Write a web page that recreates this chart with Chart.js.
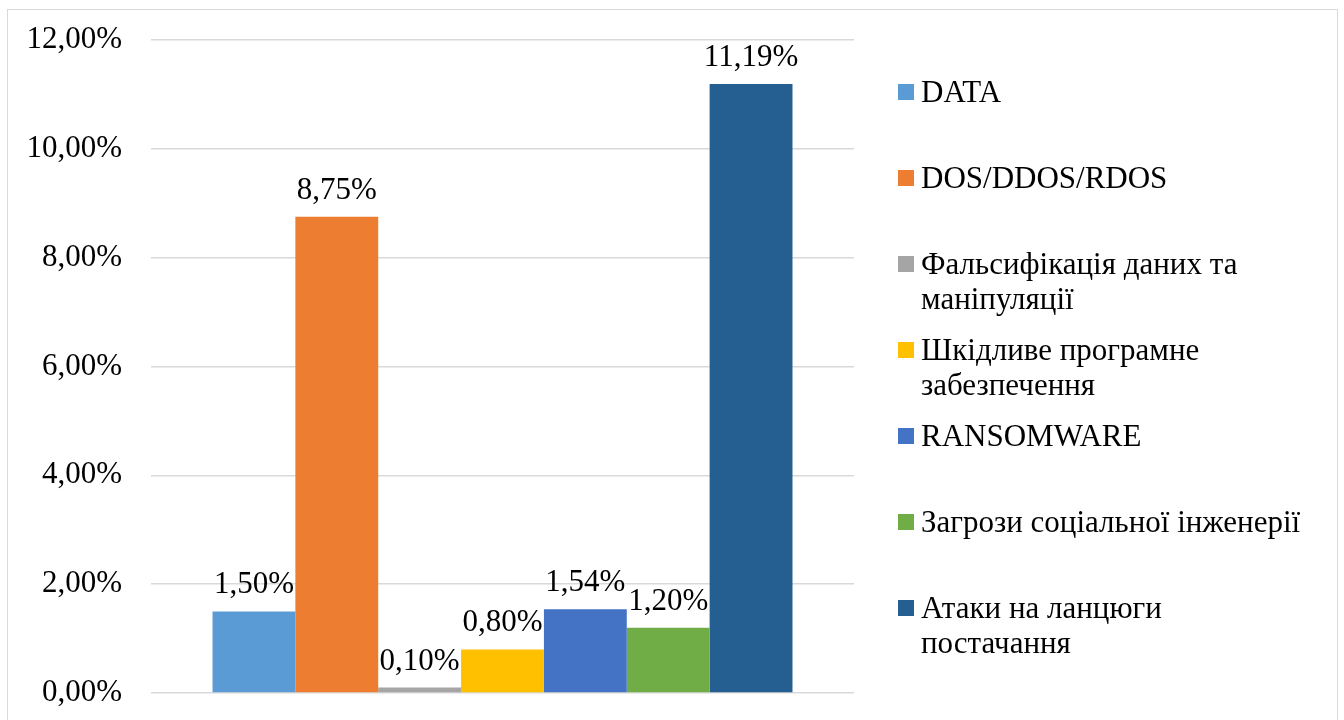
<!DOCTYPE html>
<html>
<head>
<meta charset="utf-8">
<script src="https://cdn.jsdelivr.net/npm/chart.js@4"></script>
<style>
  html, body { margin: 0; padding: 0; background: #fff; overflow: hidden; }
  #wrap { position: absolute; left: 0; top: 0; width: 1344px; height: 720px; }
  #frame { position: absolute; left: 7px; top: 9px; width: 1331px; height: 730px; border: 1.5px solid #d9d9d9; box-sizing: border-box; z-index: 2; pointer-events: none; }
</style>
</head>
<body>
<div id="wrap"><canvas id="chart" width="1344" height="720"></canvas></div>
<div id="frame"></div>
<script>
// Series names (legend), values in percent and bar colours
const seriesNames = [
  "DATA",
  "DOS/DDOS/RDOS",
  "Фальсифікація даних та\nманіпуляції",
  "Шкідливе програмне\nзабезпечення",
  "RANSOMWARE",
  "Загрози соціальної інженерії",
  "Атаки на ланцюги\nпостачання"
];
const seriesValues = [1.50, 8.75, 0.10, 0.80, 1.54, 1.20, 11.19];
const seriesColors = ["#5B9BD5", "#ED7D31", "#A5A5A5", "#FFC000", "#4472C4", "#70AD47", "#255E91"];
const categories = [""];

const FONT = "'Liberation Serif', 'Times New Roman', serif";

// format 8.75 -> "8,75%"
function fmt(v) {
  return v.toFixed(2).replace(".", ",") + "%";
}

// Value labels above each bar
const valueLabels = {
  id: "valueLabels",
  afterDatasetsDraw(chart) {
    const ctx = chart.ctx;
    ctx.save();
    ctx.font = "31px " + FONT;
    ctx.fillStyle = "#000";
    ctx.textAlign = "center";
    ctx.textBaseline = "alphabetic";
    chart.data.datasets.forEach((ds, i) => {
      const meta = chart.getDatasetMeta(i);
      meta.data.forEach((bar, j) => {
        ctx.fillText(fmt(ds.data[j]), bar.x, bar.y - 18);
      });
    });
    ctx.restore();
  }
};

// Legend on the right, evenly spaced like in Excel
const sideLegend = {
  id: "sideLegend",
  afterDraw(chart) {
    const ctx = chart.ctx;
    ctx.save();
    ctx.font = "31px " + FONT;
    ctx.textAlign = "left";
    ctx.textBaseline = "alphabetic";
    const x = 898, firstBase = 102, step = 86, lineH = 35;
    chart.data.datasets.forEach((ds, i) => {
      const base = firstBase + i * step;
      ctx.fillStyle = ds.backgroundColor;
      ctx.fillRect(x, base - 18, 16, 16);
      ctx.fillStyle = "#000";
      ds.label.split("\n").forEach((line, k) => {
        ctx.fillText(line, x + 23, base + k * lineH);
      });
    });
    ctx.restore();
  }
};

const bgPlugin = {
  id: "bg",
  beforeDraw(chart) {
    const ctx = chart.ctx;
    ctx.save();
    ctx.fillStyle = "#fff";
    ctx.fillRect(0, 0, chart.width, chart.height);
    ctx.restore();
  }
};

new Chart(document.getElementById("chart"), {
  type: "bar",
  data: {
    labels: categories,
    datasets: seriesNames.map((name, i) => ({
      label: name,
      data: [seriesValues[i]],
      backgroundColor: seriesColors[i],
      borderWidth: 0,
      categoryPercentage: 0.825,
      barPercentage: 1.0
    }))
  },
  options: {
    responsive: false,
    animation: false,
    events: [],
    layout: { padding: { left: 0, right: 490, top: 40, bottom: 27 } },
    plugins: {
      legend: { display: false },
      tooltip: { enabled: false }
    },
    scales: {
      x: { display: false },
      y: {
        min: 0,
        max: 12,
        ticks: {
          stepSize: 2,
          padding: 29,
          color: "#000",
          font: { family: FONT, size: 31 },
          callback: v => fmt(v)
        },
        grid: { color: "#d9d9d9", lineWidth: 1.5, drawTicks: false },
        border: { display: false },
        afterFit(scale) {
          scale.width = 151;
          scale.paddingTop = 0;
          scale.paddingBottom = 0;
        }
      }
    }
  },
  plugins: [bgPlugin, valueLabels, sideLegend]
});
</script>
</body>
</html>
